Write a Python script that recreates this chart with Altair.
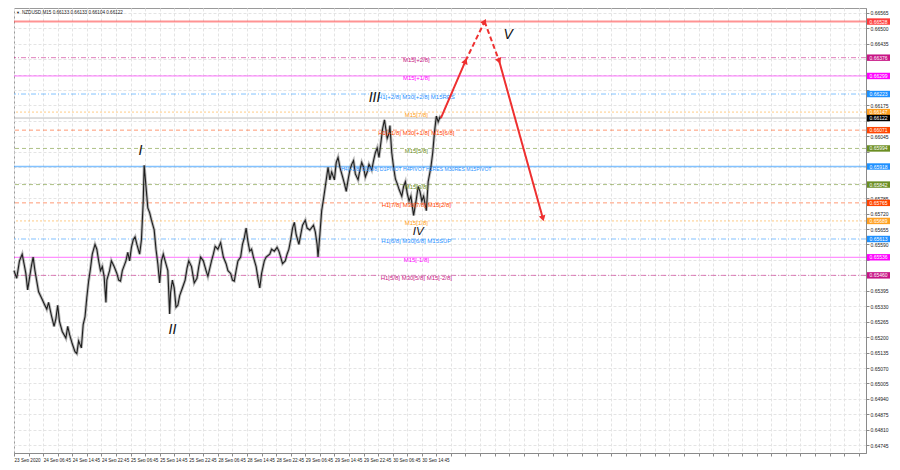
import altair as alt
import pandas as pd

# ---------------- data ----------------
title_text = "NZDUSD,M15  0.66133 0.66133 0.66104 0.66122"

time_labels = ["23 Sep 2020", "24 Sep 06:45", "24 Sep 14:45", "24 Sep 22:45",
               "25 Sep 06:45", "25 Sep 14:45", "25 Sep 22:45", "28 Sep 06:45",
               "28 Sep 14:45", "28 Sep 22:45", "29 Sep 06:45", "29 Sep 14:45",
               "29 Sep 22:45", "30 Sep 06:45", "30 Sep 14:45"]

price_ticks = [0.66565, 0.66500, 0.66435, 0.66370, 0.66305, 0.66240, 0.66175,
               0.66110, 0.66045, 0.65980, 0.65915, 0.65850, 0.65785, 0.65720,
               0.65655, 0.65590, 0.65525, 0.65460, 0.65395, 0.65330, 0.65265,
               0.65200, 0.65135, 0.65070, 0.65005, 0.64940, 0.64875, 0.64810,
               0.64745]

# bar index (M15 bars from the first visible bar) and price
path_bar = [0, 3, 6, 9, 11, 13, 15, 17, 19, 21,
            23, 27, 30, 33, 36, 38, 41, 44, 46, 48,
            50, 53, 57, 59, 61, 64, 67, 69, 71, 74,
            76, 78, 80, 82, 84, 86, 89, 91, 93, 95,
            97, 99, 101, 102, 105, 107, 110, 113, 115, 117,
            119, 123, 125, 127, 129, 131, 133, 135, 138, 140,
            142, 143, 145, 147, 149, 151, 154, 156, 158, 160,
            162, 164, 166, 169, 171, 172, 174, 176, 178, 180,
            182, 185, 188, 190, 192, 195, 198, 201, 203, 205,
            208, 211, 213, 217, 219, 221, 224, 227, 230, 233,
            235, 238, 240, 242, 244, 246, 249, 251, 253, 255,
            257, 259, 261, 263, 266, 268, 270, 272, 275, 277,
            281, 283, 286, 289, 291, 293, 295, 298, 300, 302,
            304, 306, 308, 310, 313, 315, 317, 320, 322, 325,
            329, 331, 333, 334, 336, 338, 340, 342, 345, 347,
            349, 352, 354, 356, 358, 361, 363, 365, 367, 369,
            371, 373, 375, 378, 380, 382, 384, 386, 388, 390,
            393, 395, 397, 399, 401, 403, 405, 407, 410, 412,
            413, 415, 417, 419, 421, 423, 426, 428, 430, 432,
            434, 436, 438, 439, 442, 444, 446, 448, 450, 452,
            453, 455, 458, 460, 462, 464, 466, 468, 469]
path_price = [0.65480, 0.65448, 0.65521, 0.65549, 0.65509, 0.65468, 0.65399, 0.65448, 0.65497, 0.65537,
              0.65480, 0.65391, 0.65367, 0.65342, 0.65318, 0.65346, 0.65293, 0.65245, 0.65277, 0.65334,
              0.65265, 0.65224, 0.65196, 0.65245, 0.65212, 0.65172, 0.65139, 0.65131, 0.65184, 0.65155,
              0.65253, 0.65285, 0.65367, 0.65436, 0.65488, 0.65549, 0.65590, 0.65570, 0.65521, 0.65480,
              0.65497, 0.65456, 0.65346, 0.65440, 0.65480, 0.65521, 0.65497, 0.65468, 0.65440, 0.65436,
              0.65480, 0.65521, 0.65557, 0.65521, 0.65578, 0.65610, 0.65622, 0.65590, 0.65549, 0.65610,
              0.65773, 0.65923, 0.65834, 0.65744, 0.65724, 0.65692, 0.65651, 0.65570, 0.65509, 0.65428,
              0.65521, 0.65549, 0.65521, 0.65480, 0.65298, 0.65387, 0.65440, 0.65407, 0.65326, 0.65334,
              0.65375, 0.65407, 0.65440, 0.65488, 0.65521, 0.65497, 0.65428, 0.65448, 0.65497, 0.65537,
              0.65521, 0.65480, 0.65456, 0.65521, 0.65549, 0.65582, 0.65570, 0.65598, 0.65537, 0.65509,
              0.65480, 0.65468, 0.65440, 0.65436, 0.65480, 0.65521, 0.65537, 0.65590, 0.65618, 0.65659,
              0.65602, 0.65562, 0.65570, 0.65537, 0.65497, 0.65448, 0.65407, 0.65468, 0.65521, 0.65537,
              0.65549, 0.65570, 0.65562, 0.65578, 0.65562, 0.65537, 0.65509, 0.65521, 0.65549, 0.65570,
              0.65610, 0.65659, 0.65683, 0.65631, 0.65590, 0.65631, 0.65671, 0.65692, 0.65659, 0.65651,
              0.65671, 0.65643, 0.65590, 0.65537, 0.65631, 0.65732, 0.65781, 0.65834, 0.65915, 0.65862,
              0.65895, 0.65862, 0.65935, 0.65956, 0.65915, 0.65874, 0.65846, 0.65813, 0.65862, 0.65903,
              0.65927, 0.65943, 0.65887, 0.65862, 0.65903, 0.65935, 0.65915, 0.65874, 0.65895, 0.65927,
              0.65903, 0.65943, 0.65976, 0.65996, 0.65956, 0.66017, 0.66078, 0.66114, 0.66037, 0.66057,
              0.66090, 0.65976, 0.65915, 0.65866, 0.65846, 0.65822, 0.65793, 0.65834, 0.65854, 0.65805,
              0.65773, 0.65793, 0.65740, 0.65712, 0.65781, 0.65834, 0.65813, 0.65773, 0.65793, 0.65752,
              0.65732, 0.65854, 0.65915, 0.65976, 0.66065, 0.66130, 0.66106, 0.66126, 0.66122]
assert len(path_bar) == len(path_price)

current_price = 0.66122

level_prices = [0.66528, 0.66376, 0.66299, 0.66223, 0.66147, 0.66071, 0.65994,
                0.65918, 0.65842, 0.65765, 0.65689, 0.65613, 0.65536, 0.65460]
level_texts = ["", "M15[+2/8]", "M15[+1/8]", "H1[+2/8] M30[+2/8] M15RES",
               "M15[7/8]", "H1[+1/8] M30[+1/8] M15[6/8]", "M15[5/8]",
               "H4[+1/8] D1[5/8] D1PIVOT H4PIVOT H1RES M30RES M15PIVOT",
               "M15[3/8]", "H1[7/8] M30[7/8] M15[2/8]", "M15[1/8]",
               "H1[6/8] M30[6/8] M15SUP", "M15[-1/8]", "H1[5/8] M30[5/8] M15[-2/8]"]

arrow_bar = [469, 496, 517, 533, 581]
arrow_price = [0.66122, 0.66362, 0.66528, 0.66362, 0.65700]

wave_names = ["I", "II", "III", "IV", "V"]
wave_bar = [139, 174, 396, 444, 543]
wave_price = [0.65984, 0.65232, 0.66205, 0.65643, 0.66472]

# ---------------- styling ----------------
W, H = 852, 445
X_DOMAIN = [0, 936]
Y_DOMAIN = [0.647125, 0.66585]
FONT = "Liberation Sans"

level_colors = ["#ff3b3b", "#c71585", "#ff00ff", "#1e90ff", "#ffa020", "#ff4500", "#6b8e23",
                "#1e90ff", "#6b8e23", "#ff4500", "#ffa020", "#1e90ff", "#ff00ff", "#c71585"]
level_dash = ["solid", "dashdot", "solid", "dashdot", "dot", "dash", "dash",
              "solid", "dash", "dash", "dot", "dashdot", "solid", "dashdot"]
level_width = [2, 1, 1, 1, 1, 1, 1, 1.6, 1, 1, 1, 1, 1, 1]
level_fs = [6, 6, 6, 6, 6, 6, 6, 5.1, 6, 6, 6, 6, 6, 6]
wave_fs = [14, 14, 14, 11.5, 14]
dash_patterns = {"solid": [1, 0], "dash": [4, 3], "dashdot": [5, 2, 1, 2], "dot": [2, 2]}
arrow_dash = ["solid", "dash", "dash", "solid"]
arrow_angles = [22, 29, 158, 165]

xs = alt.Scale(domain=X_DOMAIN, nice=False, zero=False)
ys = alt.Scale(domain=Y_DOMAIN, nice=False, zero=False)

label_arr = "[" + ",".join("'%s'" % t for t in time_labels) + "]"
x_axis = alt.Axis(orient="bottom", values=list(range(0, 937, 16)), tickCount=500,
                  labelExpr=f"(datum.value % 32 == 0 && datum.value / 32 < {len(time_labels)}) ? {label_arr}[datum.value / 32] : ''",
                  grid=True, gridColor="#e4e4e4", gridDash=[3, 2], gridWidth=1,
                  domainColor="#8a8a8a", tickColor="#8a8a8a", tickSize=3,
                  labelFontSize=4.6, labelFont=FONT, labelColor="#222", labelAlign="left",
                  labelPadding=1, labelFlush=False, title=None, labelOverlap=False)

# tick labels that sit under a coloured price box are hidden, as in the terminal
box_prices = level_prices + [current_price]
hidden = " || ".join(f"abs(datum.value - {p}) < 0.00019" for p in box_prices)
y_axis = alt.Axis(orient="right", values=price_ticks, tickCount=500,
                  labelExpr=f"({hidden}) ? '' : format(datum.value, '.5f')",
                  grid=True, gridColor="#e4e4e4", gridDash=[3, 2], gridWidth=1,
                  domainColor="#8a8a8a", tickColor="#8a8a8a", tickSize=3,
                  labelFontSize=5, labelFont=FONT, labelColor="#222", labelPadding=1,
                  title=None, labelOverlap=False)

path_df = pd.DataFrame({"bar": path_bar, "price": path_price})
lv = pd.DataFrame({"price": level_prices, "text": level_texts, "color": level_colors,
                   "dash": level_dash, "w": level_width, "fs": level_fs,
                   "label": [f"{p:.5f}" for p in level_prices]})

X = lambda: alt.X("bar:Q", scale=xs)
Y = lambda f="price:Q": alt.Y(f, scale=ys)

base_axes = alt.Chart(path_df).mark_line(opacity=0).encode(
    x=alt.X("bar:Q", scale=xs, axis=x_axis),
    y=alt.Y("price:Q", scale=ys, axis=y_axis),
)

layers = [base_axes]

# level lines
for style, pat in dash_patterns.items():
    sub = lv[lv.dash == style]
    if len(sub) == 0:
        continue
    layers.append(alt.Chart(sub).mark_rule(strokeDash=pat, opacity=0.55).encode(
        y=Y(),
        color=alt.Color("color:N", scale=None),
        strokeWidth=alt.StrokeWidth("w:Q", scale=None),
    ))

# current price line
cur_df = pd.DataFrame({"price": [current_price], "label": [f"{current_price:.5f}"]})
layers.append(alt.Chart(cur_df).mark_rule(color="#bbbbbb", strokeWidth=1).encode(y=Y()))

# price path (thick grey under-stroke mimics the dense candle bodies)
layers.append(alt.Chart(path_df).mark_line(color="#6a6a6a", strokeWidth=3, opacity=0.45).encode(
    x=X(), y=Y()))
layers.append(alt.Chart(path_df).mark_line(color="#1e1e1e", strokeWidth=1.1).encode(
    x=X(), y=Y()))

# level text labels
lt = lv[lv.text != ""].copy()
lt["bar"] = 442
layers.append(alt.Chart(lt).mark_text(font=FONT, dy=2.5, baseline="middle").encode(
    x=X(), y=Y(), text="text:N", color=alt.Color("color:N", scale=None),
    size=alt.Size("fs:Q", scale=None)))

# forecast arrow
seg_rows = []
for i in range(4):
    for j in (i, i + 1):
        seg_rows.append({"seg": i, "bar": arrow_bar[j], "price": arrow_price[j], "dash": arrow_dash[i]})
seg_df = pd.DataFrame(seg_rows)
for style in ("solid", "dash"):
    layers.append(alt.Chart(seg_df[seg_df.dash == style]).mark_line(
        color="#ee3030", strokeWidth=2, strokeDash=[1, 0] if style == "solid" else [5, 3]).encode(
        x=X(), y=Y(), detail="seg:N"))
head_df = pd.DataFrame({"bar": arrow_bar[1:], "price": arrow_price[1:], "ang": arrow_angles})
layers.append(alt.Chart(head_df).mark_point(shape="triangle-up", filled=True, color="#ee3030",
                                            size=45, opacity=1).encode(
    x=X(), y=Y(), angle=alt.Angle("ang:Q", scale=None)))

# wave labels
wave_df = pd.DataFrame({"bar": wave_bar, "price": wave_price, "name": wave_names, "fs": wave_fs})
layers.append(alt.Chart(wave_df).mark_text(font=FONT, fontStyle="italic",
                                           color="#111", baseline="middle").encode(
    x=X(), y=Y(), text="name:N", size=alt.Size("fs:Q", scale=None)))

# colored price boxes on the right axis
box_df = pd.concat([lv[["price", "color", "label"]],
                    pd.DataFrame({"price": [current_price], "color": ["#000000"],
                                  "label": [f"{current_price:.5f}"]})], ignore_index=True)
boxes = alt.Chart(box_df).transform_calculate(
    top="datum.price + 0.000135", bot="datum.price - 0.000135")
layers.append(boxes.mark_rect().encode(
    x=alt.value(W + 1), x2=alt.value(W + 24),
    y=Y("top:Q"), y2="bot:Q",
    color=alt.Color("color:N", scale=None)))
layers.append(alt.Chart(box_df).mark_text(fontSize=5, font=FONT, color="white",
                                          baseline="middle", align="center").encode(
    x=alt.value(W + 12.5), y=Y(), text="label:N"))

# title in the corner
layers.append(alt.Chart(pd.DataFrame({"t": ["\u25bc"]})).mark_text(
    fontSize=4, font=FONT, color="#222", align="left", baseline="middle").encode(
    x=alt.value(2), y=alt.value(5), text="t:N"))
layers.append(alt.Chart(pd.DataFrame({"t": [title_text]})).mark_text(
    fontSize=4.6, font=FONT, color="#222", align="left", baseline="middle").encode(
    x=alt.value(8), y=alt.value(5), text="t:N"))

chart = alt.layer(*layers).properties(width=W, height=H, padding=0,
                                      background="white").configure_view(
    stroke="#9a9a9a", strokeWidth=1)

chart.save("out.html", embed_options={"renderer": "svg", "actions": False})
